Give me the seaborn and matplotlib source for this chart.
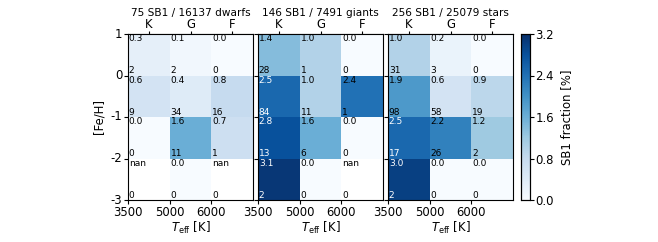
import numpy as np
import seaborn as sns
import matplotlib.pyplot as plt

sns.set_style("ticks")
plt.rcParams['font.family'] = ['DejaVu Sans']
plt.rcParams['text.color'] = 'black'
plt.rcParams['axes.labelcolor'] = 'black'
plt.rcParams['xtick.color'] = 'black'
plt.rcParams['ytick.color'] = 'black'

feh_edges = ['1', '0', '-1', '-2', '-3']
teff_edges = ['3500', '5000', '6000']
spec_types = ['K', 'G', 'F']

titles = ['75 SB1 / 16137 dwarfs', '146 SB1 / 7491 giants', '256 SB1 / 25079 stars']

# SB1 fraction [%], rows from [Fe/H]=1 down to -3, columns K, G, F
frac_dwarfs = [[0.3, 0.1, 0.0],
               [0.6, 0.4, 0.8],
               [0.0, 1.6, 0.7],
               [np.nan, 0.0, np.nan]]
frac_giants = [[1.4, 1.0, 0.0],
               [2.5, 1.0, 2.4],
               [2.8, 1.6, 0.0],
               [3.1, 0.0, np.nan]]
frac_stars = [[1.0, 0.2, 0.0],
              [1.9, 0.6, 0.9],
              [2.5, 2.2, 1.2],
              [3.0, 0.0, 0.0]]

# number of SB1 in each cell
n_dwarfs = [[2, 2, 0],
            [9, 34, 16],
            [0, 11, 1],
            [0, 0, 0]]
n_giants = [[28, 1, 0],
            [84, 11, 1],
            [13, 6, 0],
            [2, 0, 0]]
n_stars = [[31, 3, 0],
           [98, 58, 19],
           [17, 26, 2],
           [2, 0, 0]]

fracs = [frac_dwarfs, frac_giants, frac_stars]
counts = [n_dwarfs, n_giants, n_stars]

fig = plt.figure(figsize=(6.58, 2.42), dpi=100)
W, H = 658, 242
lefts = [128, 258, 388]
axes = [fig.add_axes([l / W, 42 / H, 125 / W, 166 / H]) for l in lefts]
cax = fig.add_axes([521 / W, 42 / H, 9 / W, 166 / H])

fs = 8.4
for k, ax in enumerate(axes):
    data = np.array(fracs[k], dtype=float)
    sns.heatmap(data, ax=ax, cmap='Blues', vmin=0, vmax=3.2,
                cbar=(k == 2), cbar_ax=cax if k == 2 else None,
                cbar_kws={'ticks': [0.0, 0.8, 1.6, 2.4, 3.2]})
    for sp in ax.spines.values():
        sp.set_visible(True)
        sp.set_linewidth(0.8)
        sp.set_color('black')
    for i in range(data.shape[0]):
        for j in range(data.shape[1]):
            v = data[i, j]
            col = 'white' if (not np.isnan(v) and v >= 2.5) else 'black'
            txt = 'nan' if np.isnan(v) else f'{v:.1f}'
            ax.text(j + 0.02, i + 0.01, txt, ha='left', va='top', fontsize=6.5, color=col)
            ax.text(j + 0.02, i + 0.99, str(counts[k][i][j]), ha='left', va='bottom',
                    fontsize=6.5, color=col)
    ax.set_xticks([0, 1, 2])
    ax.set_xticklabels(teff_edges, rotation=0, fontsize=fs)
    ax.set_yticks([0, 1, 2, 3, 4])
    if k == 0:
        ax.set_yticklabels(feh_edges, rotation=0, fontsize=fs)
        ax.set_ylabel('[Fe/H]', fontsize=fs)
    else:
        ax.set_yticklabels([])
    ax.tick_params(length=3, width=0.8, pad=1)
    ax.set_xlabel(r'$T_{\rm eff}$ [K]', fontsize=fs, labelpad=1)
    top = ax.secondary_xaxis('top')
    top.set_xticks([0.5, 1.5, 2.5])
    top.set_xticklabels(spec_types, fontsize=fs)
    top.tick_params(length=2, width=0.8, pad=0)
    ax.set_title(titles[k], fontsize=7.6, y=1.11, pad=0)

cax.tick_params(labelsize=fs, length=3, width=0.8, pad=1)
cax.set_ylabel('SB1 fraction [%]', fontsize=fs)
for sp in cax.spines.values():
    sp.set_visible(True)
    sp.set_linewidth(0.8)
    sp.set_color('black')
cax.yaxis.set_major_formatter(plt.FormatStrFormatter('%.1f'))

fig.savefig('out.png', dpi=100)
